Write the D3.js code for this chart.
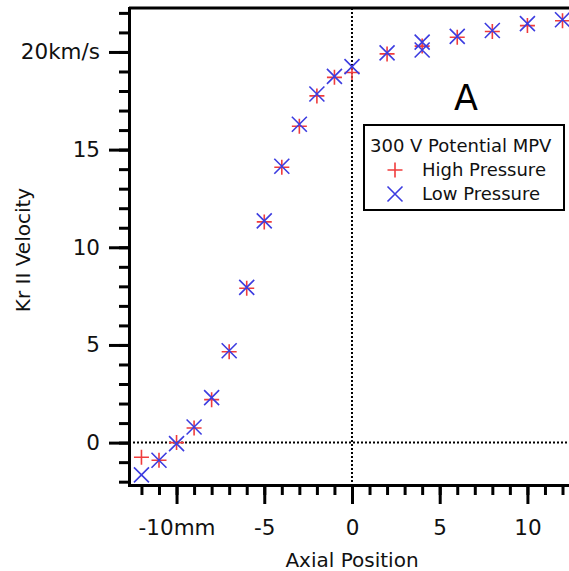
<!DOCTYPE html>
<html>
<head>
<meta charset="utf-8">
<script src="https://cdn.jsdelivr.net/npm/d3@7"></script>
<style>
  body { margin: 0; background: #fff; }
  svg { display: block; font-family: "DejaVu Sans", sans-serif; }
</style>
</head>
<body>
<svg id="chart" width="569" height="571"></svg>
<script>
// Kr II velocity vs axial position, 300 V MPV

var highX = [-12, -11, -10, -9, -8, -7, -6, -5, -4, -3, -2, -1, 0, 2, 4, 6, 8, 10, 12];
var highY = [-0.75, -0.9, 0, 0.75, 2.2, 4.65, 7.9, 11.3, 14.1, 16.2, 17.75, 18.7, 18.95, 19.9, 20.3, 20.75, 21.05, 21.35, 21.6];

var lowX = [-12, -11, -10, -9, -8, -7, -6, -5, -4, -3, -2, -1, 0, 2, 4, 4, 6, 8, 10, 12];
var lowY = [-1.65, -0.9, -0.05, 0.8, 2.3, 4.7, 7.95, 11.35, 14.15, 16.3, 17.85, 18.75, 19.25, 19.95, 20.1, 20.5, 20.8, 21.1, 21.45, 21.65];

var xMajor = [-10, -5, 0, 5, 10],
    xMinor = d3.range(-12, 13),
    yMajor = [0, 5, 10, 15, 20],
    yMinor = d3.range(-2, 23);

var legendTitle = "300 V Potential MPV",
    seriesNames = ["High Pressure", "Low Pressure"];

var svg = d3.select("#chart");

var x = d3.scaleLinear().domain([-12.71, 12.37]).range([129, 569]);
var y = d3.scaleLinear().domain([-2.17, 22.25]).range([485, 8]);

// dotted zero lines
svg.append("line")
  .attr("x1", x(0)).attr("x2", x(0))
  .attr("y1", y.range()[1]).attr("y2", y.range()[0])
  .attr("stroke", "#000").attr("stroke-width", 2)
  .attr("stroke-dasharray", "2,2");
svg.append("line")
  .attr("x1", x.range()[0]).attr("x2", x.range()[1])
  .attr("y1", y(0)).attr("y2", y(0))
  .attr("stroke", "#000").attr("stroke-width", 2)
  .attr("stroke-dasharray", "2,2");

// top frame line
svg.append("line")
  .attr("x1", x.range()[0]).attr("x2", x.range()[1])
  .attr("y1", y.range()[1]).attr("y2", y.range()[1])
  .attr("stroke", "#000").attr("stroke-width", 3);

// axes
function styleAxis(g) {
  g.attr("font-family", "DejaVu Sans, sans-serif");
  g.select(".domain").attr("stroke-width", 3);
  g.selectAll(".tick line").attr("stroke-width", 3);
  g.selectAll("text").attr("font-size", 21.5).attr("fill", "#111");
}

svg.append("g")
  .attr("transform", "translate(" + x.range()[0] + ",0)")
  .call(d3.axisLeft(y).tickValues(yMinor).tickSize(10).tickFormat("").tickSizeOuter(0))
  .call(styleAxis);
svg.append("g")
  .attr("transform", "translate(" + x.range()[0] + ",0)")
  .call(d3.axisLeft(y).tickValues(yMajor).tickSize(20).tickPadding(9).tickSizeOuter(0)
    .tickFormat(function(d) { return d === 20 ? "20km/s" : d; }))
  .call(styleAxis);

svg.append("g")
  .attr("transform", "translate(0," + y.range()[0] + ")")
  .call(d3.axisBottom(x).tickValues(xMinor).tickSize(10).tickFormat("").tickSizeOuter(0))
  .call(styleAxis);
svg.append("g")
  .attr("transform", "translate(0," + y.range()[0] + ")")
  .call(d3.axisBottom(x).tickValues(xMajor).tickSize(19).tickPadding(16).tickSizeOuter(0)
    .tickFormat(function(d) { return d === -10 ? "-10mm" : d; }))
  .call(styleAxis);

svg.selectAll(".domain").attr("stroke-linecap", "square");

// axis titles
svg.append("text")
  .attr("x", 352).attr("y", 567)
  .attr("text-anchor", "middle")
  .attr("font-size", 20).attr("fill", "#111")
  .text("Axial Position");
svg.append("text")
  .attr("transform", "translate(30,250) rotate(-90)")
  .attr("text-anchor", "middle")
  .attr("font-size", 20).attr("fill", "#111")
  .text("Kr II Velocity");

svg.append("text")
  .attr("x", 466).attr("y", 110)
  .attr("text-anchor", "middle")
  .attr("font-size", 35).attr("fill", "#000")
  .text("A");

// markers
var red = "#f03c3c", blue = "#3c3ce0", s = 7.5;

function plus(px, py) {
  return "M" + (px - s) + "," + py + "H" + (px + s) + "M" + px + "," + (py - s) + "V" + (py + s);
}
function cross(px, py) {
  return "M" + (px - s) + "," + (py - s) + "L" + (px + s) + "," + (py + s) +
         "M" + (px - s) + "," + (py + s) + "L" + (px + s) + "," + (py - s);
}

svg.append("g").selectAll("path")
  .data(d3.range(highX.length))
  .join("path")
  .attr("d", function(i) { return plus(x(highX[i]), y(highY[i])); })
  .attr("stroke", red).attr("stroke-width", 1.6).attr("fill", "none");

svg.append("g").selectAll("path")
  .data(d3.range(lowX.length))
  .join("path")
  .attr("d", function(i) { return cross(x(lowX[i]), y(lowY[i])); })
  .attr("stroke", blue).attr("stroke-width", 1.6).attr("fill", "none");

// legend
var lg = svg.append("g");
lg.append("rect")
  .attr("x", 364).attr("y", 125).attr("width", 200).attr("height", 85)
  .attr("fill", "#fff").attr("stroke", "#000").attr("stroke-width", 2);
lg.append("text")
  .attr("x", 370).attr("y", 152)
  .attr("font-size", 18).attr("fill", "#111")
  .text(legendTitle);
[red, blue].forEach(function(c, i) {
  var ly = 170 + i * 24;
  lg.append("path")
    .attr("d", i === 0 ? plus(395, ly) : cross(395, ly))
    .attr("stroke", c).attr("stroke-width", 1.6).attr("fill", "none");
  lg.append("text")
    .attr("x", 422).attr("y", ly + 6)
    .attr("font-size", 18).attr("fill", "#111")
    .text(seriesNames[i]);
});
</script>
</body>
</html>
